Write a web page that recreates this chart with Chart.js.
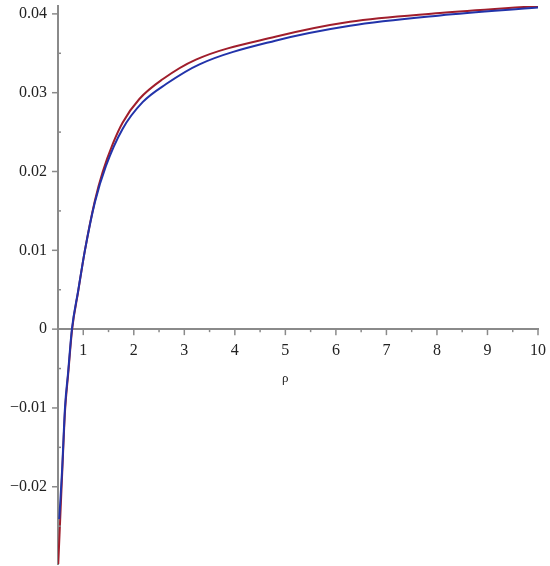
<!DOCTYPE html>
<html>
<head>
<meta charset="utf-8">
<style>
  html, body { margin: 0; padding: 0; background: #fff; }
  #wrap { width: 550px; height: 566px; }
</style>
<script src="https://cdn.jsdelivr.net/npm/chart.js@4/dist/chart.umd.min.js"></script>
</head>
<body>
<div id="wrap"><canvas id="plot"></canvas></div>
<script>
// ---- data ----
const rhoRed = [0.505, 0.58, 0.64, 0.7, 0.78, 0.9, 1.03, 1.23, 1.382, 1.59, 1.778, 2.11, 2.57, 3.23, 4.8, 6.28, 8.06, 10];
const redVals = [-0.0298, -0.0187, -0.0103, -0.0058, 0, 0.0048, 0.0099, 0.0163, 0.0199, 0.0236, 0.0262, 0.0292, 0.0317, 0.0342, 0.0371, 0.039, 0.0401, 0.041];
const rhoBlue = [0.525, 0.58, 0.64, 0.7, 0.775, 0.9, 1.03, 1.23, 1.449, 1.778, 2.175, 2.64, 3.3, 4.8, 6.28, 8.06, 10];
const blueVals = [-0.0241, -0.018, -0.0098, -0.0055, 0, 0.0049, 0.0099, 0.0161, 0.0207, 0.0254, 0.0288, 0.0311, 0.0336, 0.0366, 0.0385, 0.0398, 0.0408];
const xTitle = "ρ";

const toPts = (xs, ys) => xs.map((x, i) => ({ x: x, y: ys[i] }));
const FONT = "'Liberation Serif', 'DejaVu Serif', serif";
const AXIS = "#8a8a8a";

// drop the automatic label overflow padding, the layout padding does the job
const noPad = (s) => {
  s.paddingTop = 0;
  s.paddingBottom = 0;
  s.paddingLeft = 0;
  s.paddingRight = 0;
};

// Maple-style tick marks: long for labelled ticks, short for the halves
const tickMarks = {
  id: "tickMarks",
  afterDraw(chart) {
    const { ctx, scales } = chart;
    const x = scales.x, y = scales.y;
    const x0 = x.getPixelForValue(x.min);
    const y0 = y.getPixelForValue(0);
    ctx.save();
    ctx.strokeStyle = AXIS;
    ctx.lineWidth = 1.5;
    x.ticks.forEach((t) => {
      const px = x.getPixelForValue(t.value);
      const major = Math.abs(t.value - Math.round(t.value)) < 1e-6;
      ctx.beginPath();
      ctx.moveTo(px, y0);
      ctx.lineTo(px, y0 + (major ? 6 : 3));
      ctx.stroke();
    });
    y.ticks.forEach((t) => {
      const py = y.getPixelForValue(t.value);
      const major = Math.abs(t.value * 100 - Math.round(t.value * 100)) < 1e-6;
      ctx.beginPath();
      ctx.moveTo(x0 - (major ? 6 : 0), py);
      ctx.lineTo(x0 + (major ? 0 : 3), py);
      ctx.stroke();
    });
    // axis title
    ctx.fillStyle = "#222";
    ctx.font = "13px " + FONT;
    ctx.textAlign = "center";
    ctx.textBaseline = "middle";
    ctx.fillText(xTitle, x.getPixelForValue(5), y0 + 49);
    ctx.restore();
  },
};

new Chart(document.getElementById("plot"), {
  type: "line",
  data: {
    datasets: [
      {
        data: toPts(rhoBlue, blueVals),
        borderColor: "#2233aa",
        borderWidth: 2,
        pointRadius: 0,
        cubicInterpolationMode: "monotone",
      },
      {
        data: toPts(rhoRed, redVals),
        borderColor: "#a01e2c",
        borderWidth: 2,
        pointRadius: 0,
        cubicInterpolationMode: "monotone",
      },
    ],
  },
  options: {
    responsive: true,
    maintainAspectRatio: false,
    animation: false,
    events: [],
    layout: { padding: { left: 0, right: 12, top: 6, bottom: 2 } },
    plugins: { legend: { display: false }, tooltip: { enabled: false } },
    scales: {
      x: {
        type: "linear",
        position: { y: 0 },
        min: 0.5,
        max: 10,
        afterFit: noPad,
        grid: { display: false },
        border: { display: true, color: AXIS, width: 2 },
        ticks: {
          stepSize: 0.5,
          includeBounds: false,
          autoSkip: false,
          maxRotation: 0,
          padding: 4,
          color: "#222",
          font: { family: FONT, size: 16 },
          callback: (v) => (Math.abs(v - Math.round(v)) < 1e-6 ? String(Math.round(v)) : ""),
        },
      },
      y: {
        type: "linear",
        position: "left",
        min: -0.0298,
        max: 0.041,
        grid: { display: false },
        border: { display: true, color: AXIS, width: 2 },
        afterFit: (s) => { noPad(s); s.width = 58; },
        ticks: {
          stepSize: 0.005,
          includeBounds: false,
          autoSkip: false,
          padding: 3,
          color: "#222",
          font: { family: FONT, size: 16 },
          callback: (v) => {
            const c = Math.round(v * 1000);
            if (c % 10 !== 0) return "";
            if (c === 0) return "0";
            return (c < 0 ? "\u2212" : "") + (Math.abs(c) / 1000).toFixed(2);
          },
        },
      },
    },
  },
  plugins: [tickMarks],
});
</script>
</body>
</html>
